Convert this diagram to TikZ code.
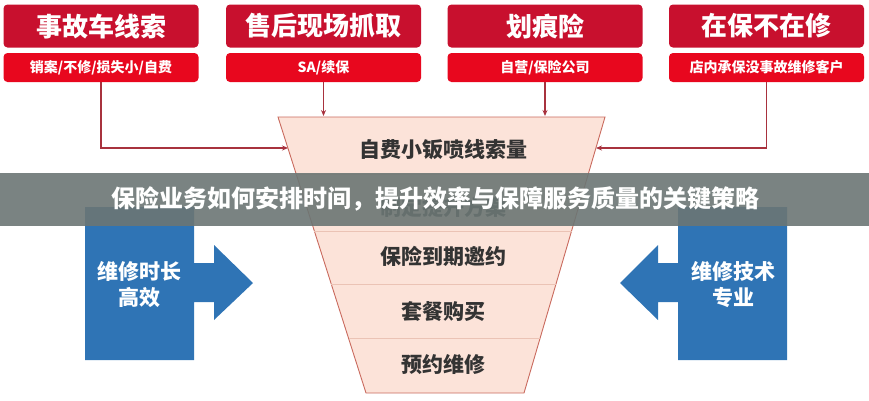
\documentclass[tikz,border=0pt]{standalone}
\usepackage{fontspec}
\setmainfont{Noto Sans CJK SC}
\usetikzlibrary{arrows.meta}

\definecolor{titred}{HTML}{C8102E}
\definecolor{subred}{HTML}{E8071E}
\definecolor{lnkred}{HTML}{A8323E}
\definecolor{fnlfill}{HTML}{FCE3D9}
\definecolor{fnlline}{HTML}{C96A5E}
\definecolor{rowline}{HTML}{EBC3B5}
\definecolor{txtgray}{HTML}{333333}
\definecolor{blubox}{HTML}{2F74B5}
\definecolor{banner}{HTML}{6B7674}

\tikzset{ttl/.style={fill=titred, rounded corners=4pt, minimum width=195pt, minimum height=43pt, inner sep=0pt, text=white, font=\fontsize{26}{30}\selectfont\bfseries},
         subbox/.style={fill=subred, rounded corners=4pt, minimum width=195pt, minimum height=29pt, inner sep=0pt, text=white, font=\fontsize{14}{16}\selectfont\bfseries},
         lnk/.style={draw=lnkred, line width=1.1pt, -{Stealth[length=6pt,width=5pt]}},
         fnl/.style={font=\fontsize{21}{24}\selectfont\bfseries, text=txtgray},
         blu/.style={font=\fontsize{21}{26}\selectfont\bfseries, text=white, align=center}}

\begin{document}
\begin{tikzpicture}[x=1pt, y=-1pt]
  \useasboundingbox (0,0) rectangle (869,400);
  % top red boxes
  \node[ttl] (t1) at (101,26)   {事故车线索};   \node[subbox] (s1) at (101,67.5)   {销案/不修/损失小/自费};
  \node[ttl] (t2) at (323.5,26) {售后现场抓取}; \node[subbox] (s2) at (323.5,67.5) {SA/续保};
  \node[ttl] (t3) at (545,26)   {划痕险};       \node[subbox] (s3) at (545,67.5)   {自营/保险公司};
  \node[ttl] (t4) at (766.5,26) {在保不在修};   \node[subbox] (s4) at (766.5,67.5) {店内承保没事故维修客户};

  % funnel
  \coordinate (ftl) at (278,117); \coordinate (ftr) at (605,117);
  \coordinate (fbr) at (524,393); \coordinate (fbl) at (366,393);
  \draw[fill=fnlfill, draw=fnlline, line width=0.9pt] (ftl) -- (ftr) -- (fbr) -- (fbl) -- cycle;
  \draw[rowline, line width=0.9pt] (296.2,174) -- (588.3,174);
  \draw[rowline, line width=0.9pt] (314.3,231) -- (571.5,231);
  \draw[rowline, line width=0.9pt] (331.2,284) -- (556.0,284);
  \draw[rowline, line width=0.9pt] (348.5,338) -- (540.1,338);
  \node[fnl] (f1) at (443,150) {自费小钣喷线索量};
  \node[fnl] (f2) at (443,207) {制定提升方案};
  \node[fnl] (f3) at (443,256) {保险到期邀约};
  \node[fnl] (f4) at (443,312) {套餐购买};
  \node[fnl] (f5) at (443,365) {预约维修};

  % connectors
  \coordinate (inL) at (288,148); \coordinate (inR) at (596,148);
  \coordinate (in2) at (323.5,116); \coordinate (in3) at (545,116);
  \draw[lnk] (s1.south) |- (inL);
  \draw[lnk] (s2.south) -- (in2);
  \draw[lnk] (s3.south) -- (in3);
  \draw[lnk] (s4.south) |- (inR);

  % blue arrows
  \fill[blubox] (85,207) -- (194,207) -- (194,263) -- (214,263) -- (214,245) -- (253,283) -- (214,320) -- (214,302) -- (194,302) -- (194,360) -- (85,360) -- cycle;
  \node[blu] (b1) at (139,285) {维修时长\\高效};
  \fill[blubox] (787,207) -- (678,207) -- (678,263) -- (658,263) -- (658,245) -- (620,283) -- (658,320) -- (658,302) -- (678,302) -- (678,360) -- (787,360) -- cycle;
  \node[blu] (b2) at (733,285) {维修技术\\专业};

  % banner
  \fill[banner, opacity=0.9] (0,173) rectangle (869,226);
  \node[text=white, font=\fontsize{24}{26}\selectfont\bfseries] (ttx) at (435,199) {保险业务如何安排时间，提升效率与保障服务质量的关键策略};
\end{tikzpicture}
\end{document}
